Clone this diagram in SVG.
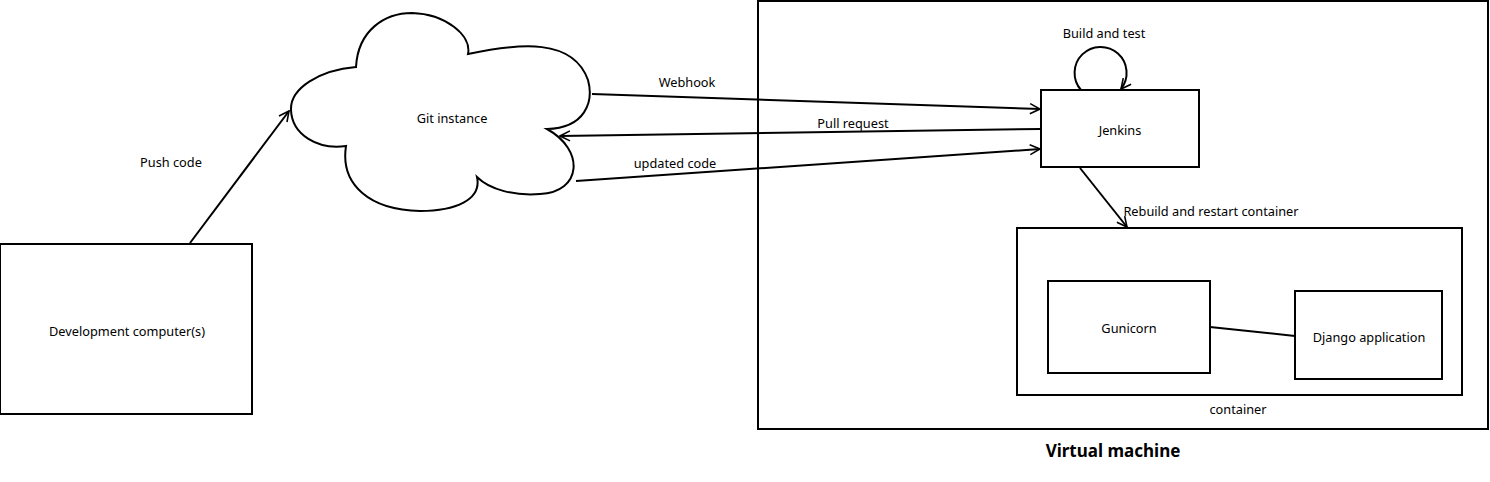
<svg xmlns="http://www.w3.org/2000/svg" width="1490" height="482" viewBox="0 0 1490 482">
<style>
.box{fill:#fff;stroke:#000;stroke-width:2}
.ln{fill:none;stroke:#000;stroke-width:2}
.t{font-family:"Noto Sans","Open Sans",sans-serif;font-size:12.75px;fill:#000;text-anchor:middle;dominant-baseline:central}
.b{font-weight:bold;font-size:17px}
</style>
<defs>
<marker id="arr" viewBox="0 0 12 12" refX="11" refY="6" markerWidth="12" markerHeight="12" markerUnits="userSpaceOnUse" orient="auto">
<path d="M1 1 L11 6 L1 11" fill="none" stroke="#000" stroke-width="1.6"/>
</marker>
</defs>
<g id="vm"><rect class="box" x="758" y="1" width="730" height="428"/><text class="t b" x="1113" y="450">Virtual machine</text></g>
<g id="dev"><rect class="box" x="0" y="244" width="252" height="170"/><text class="t" x="127" y="331">Development computer(s)</text></g>
<g id="git"><path class="box" d="M291 110 C290 88 320 70 356 67 C358 30 385 13 412 13 C445 14 472 35 468 54 C520 43 573 38 588 80 C594 102 585 128 547 129 C585 150 582 192 540 194 C515 196 490 190 477 177 C482 200 455 211 420 211 C370 210 340 185 346 146 C318 150 292 135 291 110 Z"/><text class="t" x="452" y="118">Git instance</text></g>
<g id="jenkins"><rect class="box" x="1041" y="90" width="158" height="77"/><text class="t" x="1120" y="130">Jenkins</text></g>
<g id="container"><rect class="box" x="1017" y="228" width="445" height="167"/><text class="t" x="1238" y="409">container</text></g>
<g id="gunicorn"><rect class="box" x="1048" y="281" width="162" height="92"/><text class="t" x="1129" y="328">Gunicorn</text></g>
<g id="django"><rect class="box" x="1295" y="291" width="147" height="88"/><text class="t" x="1369" y="337">Django application</text></g>
<g id="connectors">
<line class="ln" x1="190" y1="243" x2="289" y2="111" marker-end="url(#arr)"/>
<text class="t" x="171" y="162">Push code</text>
<line class="ln" x1="592" y1="94" x2="1040" y2="109" marker-end="url(#arr)"/>
<text class="t" x="687" y="82">Webhook</text>
<line class="ln" x1="1041" y1="129" x2="560" y2="136" marker-end="url(#arr)"/>
<text class="t" x="853" y="123">Pull request</text>
<line class="ln" x1="576" y1="181" x2="1040" y2="149" marker-end="url(#arr)"/>
<text class="t" x="675" y="163">updated code</text>
<path class="ln" d="M1081 90 A26 26 0 1 1 1121 89" marker-end="url(#arr)"/>
<text class="t" x="1104" y="33">Build and test</text>
<line class="ln" x1="1080" y1="168" x2="1127" y2="227" marker-end="url(#arr)"/>
<text class="t" x="1211" y="211">Rebuild and restart container</text>
<line class="ln" x1="1210" y1="327" x2="1295" y2="336"/>
</g>
</svg>
